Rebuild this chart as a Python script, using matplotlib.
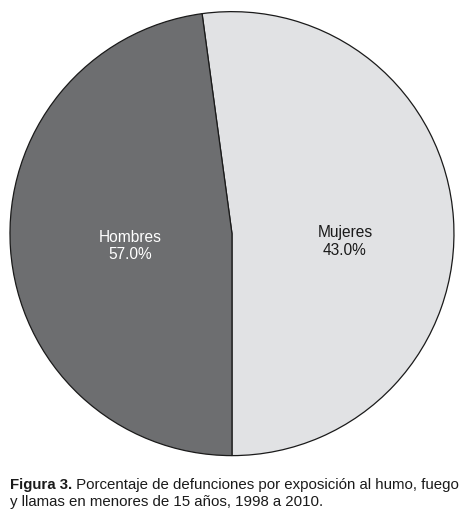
import matplotlib
matplotlib.use("Agg")
import matplotlib.pyplot as plt
import numpy as np

plt.rcParams['font.family'] = ['Liberation Sans', 'DejaVu Sans']

# shares as drawn in the figure (the printed labels say 43.0 / 57.0)
categories = ["Mujeres", "Hombres"]
shares = [52.15, 47.85]
pct_labels = ["43.0%", "57.0%"]
colors = ["#e1e2e4", "#6d6e70"]
text_colors = ["#1a1a1a", "#ffffff"]

caption_bold = "Figura 3."
caption_line1 = " Porcentaje de defunciones por exposición al humo, fuego"
caption_line2 = "y llamas en menores de 15 años, 1998 a 2010."

fig = plt.figure(figsize=(4.62, 5.25), dpi=100)
ax = fig.add_axes([0.0216, 0.132, 0.961, 0.846])

wedges, _ = ax.pie(shares, colors=colors, startangle=-90, counterclock=True,
                   wedgeprops=dict(edgecolor="#1a1a1a", linewidth=0.9))
ax.set_xlim(-1, 1)
ax.set_ylim(-1, 1)
ax.set_aspect("equal")
ax.axis("off")

# label positions
offsets = [(0.51, -0.07), (0.46, -0.024)]
for w, name, pct, tc, (r, dy) in zip(wedges, categories, pct_labels, text_colors, offsets):
    mid = np.deg2rad((w.theta1 + w.theta2) / 2)
    ax.text(r * np.cos(mid), r * np.sin(mid) + dy, name + "\n" + pct,
            ha="center", va="center", color=tc, fontsize=11.2, linespacing=1.2)

t = fig.text(10 / 462, 1 - 489 / 525, caption_bold, fontsize=10.8,
             fontweight="bold", color="#1a1a1a", ha="left", va="baseline")
fig.canvas.draw()
bb = t.get_window_extent()
fig.text(bb.x1 / fig.bbox.width, 1 - 489 / 525, caption_line1, fontsize=10.8,
         color="#1a1a1a", ha="left", va="baseline")
fig.text(10 / 462, 1 - 506 / 525, caption_line2, fontsize=10.8,
         color="#1a1a1a", ha="left", va="baseline")

fig.savefig("out.png", dpi=100)
